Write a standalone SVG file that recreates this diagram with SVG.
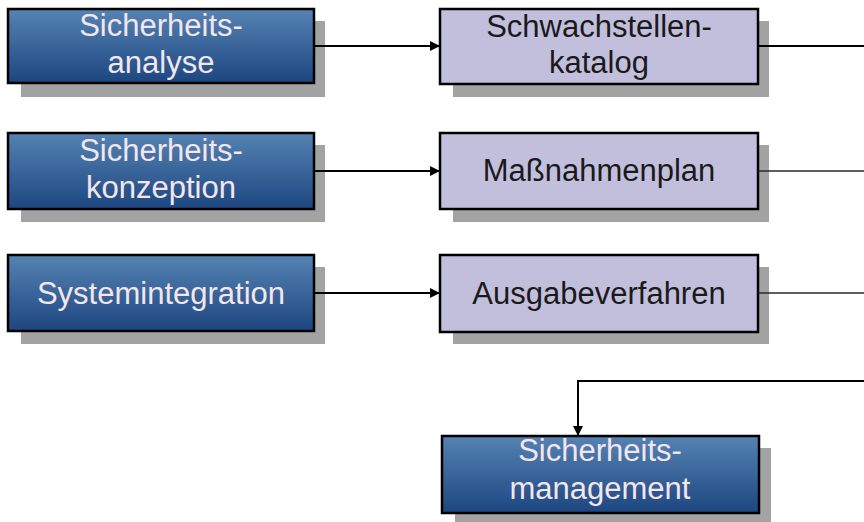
<svg xmlns="http://www.w3.org/2000/svg" width="864" height="522" viewBox="0 0 864 522">
<defs>
<linearGradient id="blueGrad" x1="0" y1="0" x2="0" y2="1">
<stop offset="0" stop-color="#5583b3"/>
<stop offset="1" stop-color="#1d4680"/>
</linearGradient>
<marker id="arrow" viewBox="0 0 10 10" refX="10" refY="5" markerWidth="11" markerHeight="10" markerUnits="userSpaceOnUse" orient="auto">
<path d="M0,0 L10,5 L0,10 Z" fill="#000"/>
</marker>
</defs>
<style>
.shadow{fill:#a3a3a3}
.blue{fill:url(#blueGrad);stroke:#000;stroke-width:2.5}
.purple{fill:#c2bfdd;stroke:#000;stroke-width:2.5}
.tw{font-family:"Liberation Sans",Arial,sans-serif;font-size:31px;fill:#f3e6ee;text-anchor:middle}
.tb{font-family:"Liberation Sans",Arial,sans-serif;font-size:31px;fill:#1a1a1a;text-anchor:middle}
.c{fill:none;stroke:#000;stroke-width:2}
.ct{fill:none;stroke:#2a2a2a;stroke-width:1.4}
</style>
<rect width="864" height="522" fill="#fff"/>
<g id="sicherheitsanalyse">
<rect class="shadow" x="21" y="21" width="304" height="76"/>
<rect class="blue" x="8" y="9" width="306" height="74"/>
<text class="tw" x="161" y="36">Sicherheits-</text>
<text class="tw" x="161" y="72.5">analyse</text>
</g>
<g id="schwachstellenkatalog">
<rect class="shadow" x="453" y="21" width="316" height="76"/>
<rect class="purple" x="440" y="9" width="318" height="75"/>
<text class="tb" x="599" y="37">Schwachstellen-</text>
<text class="tb" x="599" y="72.5">katalog</text>
</g>
<g id="sicherheitskonzeption">
<rect class="shadow" x="21" y="145" width="304" height="77"/>
<rect class="blue" x="8" y="133" width="306" height="76"/>
<text class="tw" x="161" y="161">Sicherheits-</text>
<text class="tw" x="161" y="197.5">konzeption</text>
</g>
<g id="massnahmenplan">
<rect class="shadow" x="453" y="145" width="316" height="77"/>
<rect class="purple" x="440" y="133" width="318" height="76"/>
<text class="tb" x="599" y="181">Maßnahmenplan</text>
</g>
<g id="systemintegration">
<rect class="shadow" x="21" y="267" width="304" height="77"/>
<rect class="blue" x="8" y="255" width="306" height="76"/>
<text class="tw" x="161" y="304">Systemintegration</text>
</g>
<g id="ausgabeverfahren">
<rect class="shadow" x="453" y="267" width="316" height="77"/>
<rect class="purple" x="440" y="255" width="318" height="77"/>
<text class="tb" x="599" y="304">Ausgabeverfahren</text>
</g>
<g id="sicherheitsmanagement">
<rect class="shadow" x="455" y="448" width="316" height="80"/>
<rect class="blue" x="442" y="436" width="317" height="77"/>
<text class="tw" x="600" y="461">Sicherheits-</text>
<text class="tw" x="600" y="499">management</text>
</g>
<g id="connectors">
<line class="c" x1="315" y1="46" x2="440" y2="46" marker-end="url(#arrow)"/>
<line class="c" x1="315" y1="171" x2="440" y2="171" marker-end="url(#arrow)"/>
<line class="c" x1="315" y1="293" x2="440" y2="293" marker-end="url(#arrow)"/>
<line class="c" x1="759" y1="46" x2="864" y2="46"/>
<line class="ct" x1="759" y1="171" x2="864" y2="171"/>
<line class="ct" x1="759" y1="293" x2="864" y2="293"/>
<polyline class="c" points="864,381 578,381 578,436" marker-end="url(#arrow)"/>
</g>
</svg>
